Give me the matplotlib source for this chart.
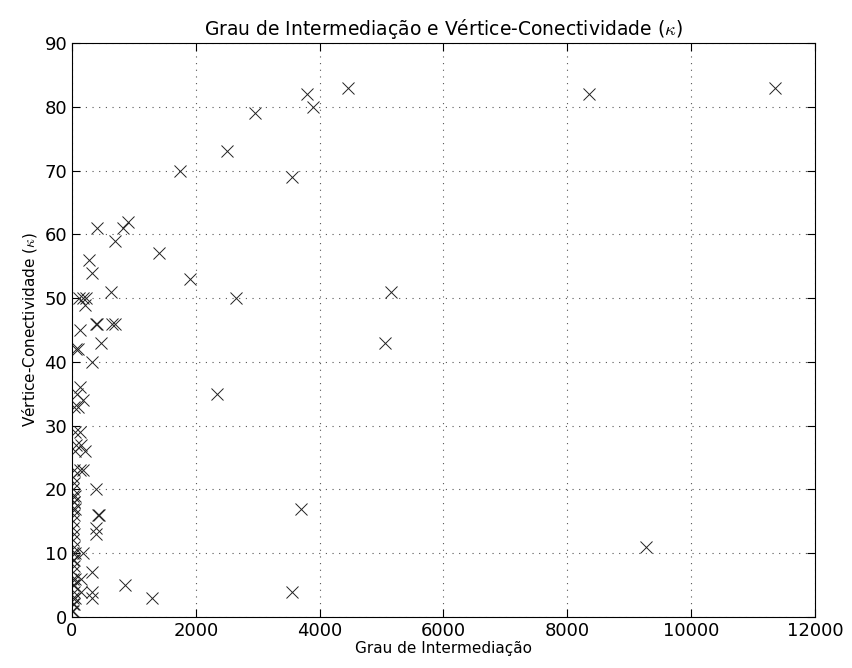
import matplotlib
matplotlib.use("Agg")
import matplotlib.pyplot as plt

plt.rcParams.update({
    "mathtext.fontset": "cm",
    "xtick.direction": "in",
    "ytick.direction": "in",
    "xtick.major.size": 6,
    "ytick.major.size": 6,
})

# Pontos afastados do eixo
far_x = [1750, 2950, 2500, 3800, 3900, 4450, 3550, 2650, 5150, 5050,
         2350, 3700, 3550, 8350, 9270, 11350, 1900, 1400, 1300, 850]
far_y = [70, 79, 73, 82, 80, 83, 69, 50, 51, 43,
         35, 17, 4, 82, 11, 83, 53, 57, 3, 5]

# Pontos intermediarios
mid_x = [410, 900, 820, 690, 270, 330, 630, 110, 170, 230, 210, 380, 400,
         650, 690, 130, 470, 60, 100, 320, 130, 80, 180, 40, 90, 50, 130,
         60, 150, 50, 210, 40, 130, 170, 390, 420, 440, 380, 380, 170, 320,
         150, 140, 320, 330]
mid_y = [61, 62, 61, 59, 56, 54, 51, 50, 50, 50, 49, 46, 46,
         46, 46, 45, 43, 42, 42, 40, 36, 35, 34, 33, 33, 29, 29,
         27, 27, 26, 26, 23, 23, 23, 20, 16, 16, 14, 13, 10, 7,
         6, 4, 4, 3]

# Aglomerado junto ao eixo
near_x = [10, 30, 20, 50, 15, 40, 25, 10, 45, 30, 20, 15, 35, 10, 25, 20,
          50, 30, 10, 40, 15, 20, 55, 10, 35, 25, 15, 45, 10, 30, 5, 20]
near_y = [22, 21, 20, 19, 19, 18, 18, 17, 17, 16, 15, 14, 13, 12, 11, 10,
          10, 9, 9, 8, 7, 6, 6, 5, 5, 4, 3, 3, 2, 2, 1, 1]

xs = far_x + mid_x + near_x
ys = far_y + mid_y + near_y

fig = plt.figure(figsize=(8.52, 6.68), dpi=100)
ax = fig.add_axes([0.0845, 0.0763, 0.872, 0.8593])

ax.plot(xs, ys, "x", color="#222222", markersize=8, markeredgewidth=0.7)

ax.set_xlim(0, 12000)
ax.set_ylim(0, 90)
ax.set_xticks(range(0, 12001, 2000))
ax.set_yticks(range(0, 91, 10))
ax.tick_params(labelsize=13, top=True, right=True)
ax.grid(True, linestyle=(0, (1, 5)), color="#555555", linewidth=0.8)

ax.set_xlabel("Grau de Intermediação", fontsize=11, labelpad=1)
ax.set_ylabel(r"Vértice-Conectividade ($\kappa$)", fontsize=11)
ax.set_title(r"Grau de Intermediação e Vértice-Conectividade ($\kappa$)",
             fontsize=13.5, pad=6)

fig.savefig("out.png", dpi=100)
